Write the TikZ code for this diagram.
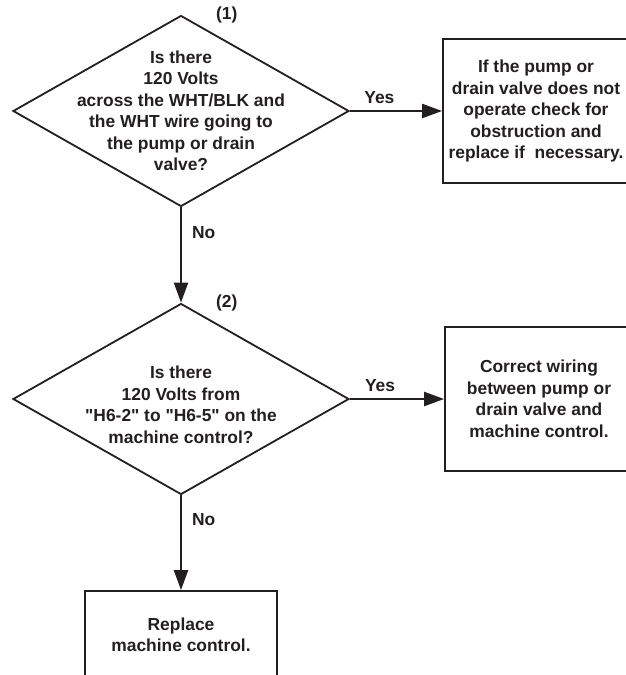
\documentclass[tikz,border=0pt]{standalone}
\usepackage{fontspec}
\newfontfamily\chartfont{Liberation Sans}
\usetikzlibrary{shapes.geometric,arrows.meta,positioning}
\definecolor{ink}{HTML}{231F20}

\begin{document}
\begin{tikzpicture}[x=1pt,y=-1pt,
    txt/.style={font=\chartfont\fontsize{17.4}{21.5}\selectfont\bfseries, text=ink, align=center, inner sep=0pt},
    decision/.style={diamond, draw=ink, line width=1.8pt, minimum width=336pt, minimum height=191pt, inner sep=0pt},
    answer/.style={txt, rectangle, draw=ink, line width=1.8pt, minimum height=144pt},
    flow/.style={draw=ink, line width=2.2pt, -{Triangle[length=20pt,width=14pt]}}]
  \useasboundingbox (0,0) rectangle (626,675);
  \node[decision] (q1) at (181,111) {};
  \node[txt] (q1txt) at (q1.center) {Is there\\120 Volts\\across the WHT/BLK and\\the WHT wire going to\\the pump or drain\\valve?};
  \node[txt, right=35pt of q1.north] (n1) {(1)};
  \node[answer, minimum width=186pt] (a1) at (536,111) {If the pump or\\drain valve does not\\operate check for\\obstruction and\\replace if\ \ necessary.};
  \node[decision] (q2) at (181,399) {};
  \node[txt] (q2txt) at ([yshift=-6pt]q2.center) {Is there\\120 Volts from\\"H6-2" to "H6-5" on the\\machine control?};
  \node[txt, right=35pt of q2.north] (n2) {(2)};
  \node[answer, minimum width=188pt] (a2) at (539,399) {Correct wiring\\between pump or\\drain valve and\\machine control.};
  \node[answer, minimum width=192pt, minimum height=88pt] (a3) at (181,635) {Replace\\machine control.};
  \draw[flow] (q1.east) -- (a1.west) node[txt, pos=0.32, above=6pt] {Yes};
  \draw[flow] (q1.south) -- (q2.north) node[txt, pos=0.26, right=10pt] {No};
  \draw[flow] (q2.east) -- (a2.west) node[txt, pos=0.32, above=6pt] {Yes};
  \draw[flow] (q2.south) -- (a3.north) node[txt, pos=0.26, right=10pt] {No};
\end{tikzpicture}
\end{document}
